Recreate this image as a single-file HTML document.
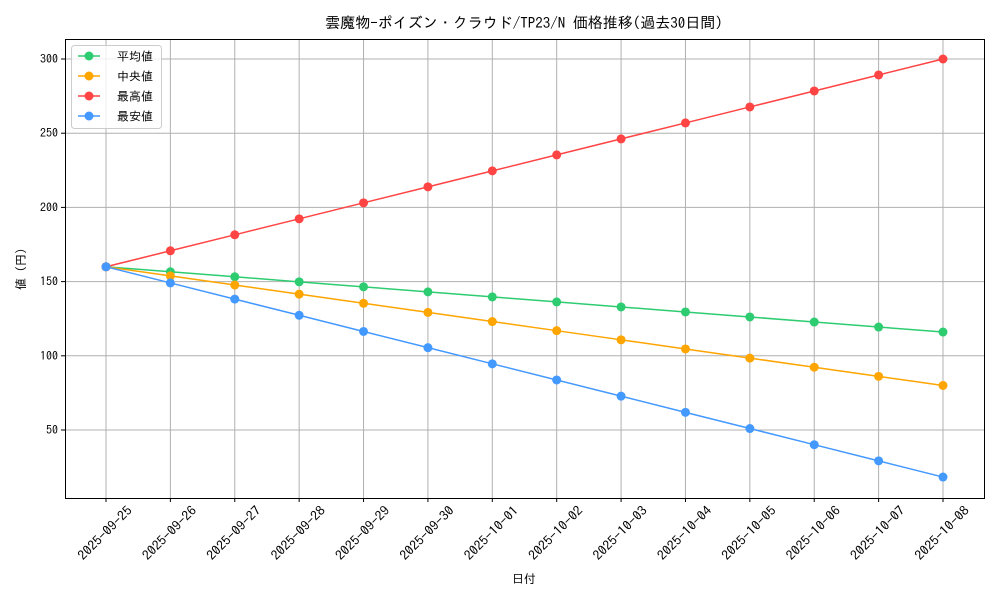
<!DOCTYPE html>
<html><head><meta charset="utf-8"><style>
body{margin:0;background:#fff}
svg text{font-family:"IPAGothic","Liberation Sans","Noto Sans CJK JP",sans-serif;fill:#000}
</style></head><body>
<svg id="s" width="1000" height="600" xmlns="http://www.w3.org/2000/svg">
<rect width="1000" height="600" fill="#fff"/>
<text x="524" y="28" font-size="15" text-anchor="middle">雲魔物-ポイズン・クラウド/TP23/N 価格推移(過去30日間)</text>
<g id="grid"></g>
<rect x="65.5" y="39.5" width="919" height="459" fill="none" stroke="#000" stroke-width="1"/>
<g id="series"></g>
<text x="524" y="583" font-size="12" text-anchor="middle">日付</text>
<text transform="translate(25,269) rotate(-90)" font-size="12" text-anchor="middle">値 (円)</text>
<g>
<rect x="71.5" y="45.5" width="90" height="83" rx="3" fill="#fff" fill-opacity="0.8" stroke="#ccc"/>
<line x1="78" y1="56" x2="100" y2="56" stroke="#2ecc71" stroke-width="1.5"/><circle cx="89" cy="56" r="4.5" fill="#2ecc71"/><text x="117" y="60.5" font-size="12">平均値</text>
<line x1="78" y1="76" x2="100" y2="76" stroke="#ffa500" stroke-width="1.5"/><circle cx="89" cy="76" r="4.5" fill="#ffa500"/><text x="117" y="80.5" font-size="12">中央値</text>
<line x1="78" y1="96" x2="100" y2="96" stroke="#ff4444" stroke-width="1.5"/><circle cx="89" cy="96" r="4.5" fill="#ff4444"/><text x="117" y="100.5" font-size="12">最高値</text>
<line x1="78" y1="116" x2="100" y2="116" stroke="#4499ff" stroke-width="1.5"/><circle cx="89" cy="116" r="4.5" fill="#4499ff"/><text x="117" y="120.5" font-size="12">最安値</text>
</g>
</svg>
<script>
const NS="http://www.w3.org/2000/svg";
const X=i=>106+i*(943-106)/13, Y=v=>59+(300-v)*1.484;
const g=document.getElementById("grid"), sr=document.getElementById("series");
function el(p,t,a,txt){const e=document.createElementNS(NS,t);for(const k in a)e.setAttribute(k,a[k]);if(txt)e.textContent=txt;p.appendChild(e);return e;}
const dates=["2025-09-25","2025-09-26","2025-09-27","2025-09-28","2025-09-29","2025-09-30","2025-10-01","2025-10-02","2025-10-03","2025-10-04","2025-10-05","2025-10-06","2025-10-07","2025-10-08"];
dates.forEach((d,i)=>{const x=X(i);el(g,"line",{x1:x,y1:39,x2:x,y2:498,stroke:"#b0b0b0","stroke-width":1});
el(g,"line",{x1:x,y1:498,x2:x,y2:502,stroke:"#000"});
el(g,"text",{transform:`translate(${x-1},${533}) rotate(-45)`,"font-size":13,"text-anchor":"middle",textLength:70,lengthAdjust:"spacingAndGlyphs",y:4.5},d);});
[50,100,150,200,250,300].forEach(v=>{const y=Y(v);el(g,"line",{x1:65,y1:y,x2:984,y2:y,stroke:"#b0b0b0","stroke-width":1});
el(g,"line",{x1:61,y1:y,x2:65,y2:y,stroke:"#000"});
el(g,"text",{x:58,y:y+4,"font-size":12,"text-anchor":"end"},String(v));});
const S=[["#2ecc71",160,116],["#ffa500",160,80],["#ff4444",160,300],["#4499ff",160,18.3]];
S.forEach(([c,a,b])=>{let pts=[];for(let i=0;i<14;i++)pts.push([X(i),Y(a+(b-a)*i/13)]);
el(sr,"polyline",{points:pts.map(p=>p.join(",")).join(" "),fill:"none",stroke:c,"stroke-width":1.5});
pts.forEach(p=>el(sr,"circle",{cx:p[0],cy:p[1],r:4.5,fill:c}));});
</script>
</body></html>
